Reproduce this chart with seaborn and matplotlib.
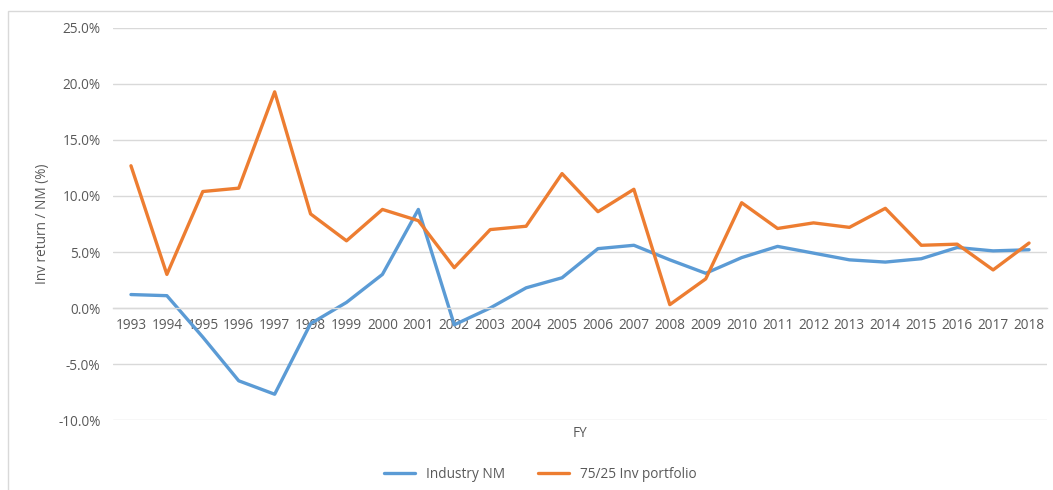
import matplotlib
matplotlib.use("Agg")
import matplotlib.pyplot as plt
import matplotlib.ticker as mticker
from matplotlib.lines import Line2D
import seaborn as sns
import pandas as pd
import numpy as np

years = [str(y) for y in range(1993, 2019)]
industry_nm = [1.2, 1.1, -2.6, -6.5, -7.7, -1.4, 0.5, 3.0, 8.8, -1.5, 0.0, 1.8, 2.7,
               5.3, 5.6, 4.3, 3.1, 4.5, 5.5, 4.9, 4.3, 4.1, 4.4, 5.4, 5.1, 5.2]
portfolio = [12.7, 3.0, 10.4, 10.7, 19.3, 8.4, 6.0, 8.8, 7.8, 3.6, 7.0, 7.3, 12.0,
             8.6, 10.6, 0.3, 2.6, 9.4, 7.1, 7.6, 7.2, 8.9, 5.6, 5.7, 3.4, 5.8]
series_names = ["Industry NM", "75/25 Inv portfolio"]
colors = ["#5B9BD5", "#ED7D31"]

df = pd.DataFrame({
    "FY": years * 2,
    "value": industry_nm + portfolio,
    "series": [series_names[0]] * len(years) + [series_names[1]] * len(years),
})

sns.set_style("white")
plt.rcParams["font.family"] = ["Open Sans", "DejaVu Sans"]
text_color = "#595959"
grid_color = "#D9D9D9"
fs = 9.8

fig = plt.figure(figsize=(10.53, 4.9), dpi=100)
ax = fig.add_axes([113 / 1053, 1 - 420 / 490, (1047 - 113) / 1053, (420 - 28) / 490])

sns.lineplot(data=df, x="FY", y="value", hue="series", palette=colors,
             linewidth=2.4, ax=ax, legend=False, sort=False)

ax.set_ylim(-10, 25)
ax.set_xlim(-0.5, len(years) - 0.5)
ax.yaxis.set_major_locator(mticker.MultipleLocator(5))
ax.yaxis.set_major_formatter(mticker.FuncFormatter(lambda v, p: f"{v:.1f}%"))
ax.grid(axis="y", color=grid_color, linewidth=1)
ax.set_axisbelow(True)

for s in ["top", "right", "left"]:
    ax.spines[s].set_visible(False)
ax.spines["bottom"].set_position(("data", 0))
ax.spines["bottom"].set_color(grid_color)
ax.spines["bottom"].set_linewidth(1)

ax.set_xticks(range(len(years)))
ax.set_xticklabels(years)
ax.set_xticks(np.arange(-0.5, len(years), 1.0), minor=True)
ax.tick_params(axis="x", which="major", length=0, pad=7, labelsize=fs, labelcolor=text_color)
ax.tick_params(axis="x", which="minor", length=5, color=grid_color, width=1, direction="out")
ax.tick_params(axis="y", length=0, pad=9, labelsize=fs, labelcolor=text_color)

ax.set_xlabel("FY", fontsize=fs, color=text_color)
ax.xaxis.set_label_coords(0.5, -0.015)
ax.set_ylabel("Inv return / NM (%)", fontsize=fs, color=text_color, labelpad=6)

handles = [Line2D([0], [0], color=c, linewidth=2.4) for c in colors]
fig.legend(handles, series_names, loc="center", bbox_to_anchor=(0.513, 1 - 474 / 490),
           ncol=2, frameon=False, fontsize=fs, labelcolor=text_color,
           handlelength=2.3, columnspacing=2.4)

border = plt.Rectangle((8 / 1053, -0.05), 1.1, 1 - 11 / 490 + 0.05, transform=fig.transFigure,
                       fill=False, edgecolor="#D9D9D9", linewidth=1)
fig.patches.append(border)

fig.savefig("out.png", dpi=100)
